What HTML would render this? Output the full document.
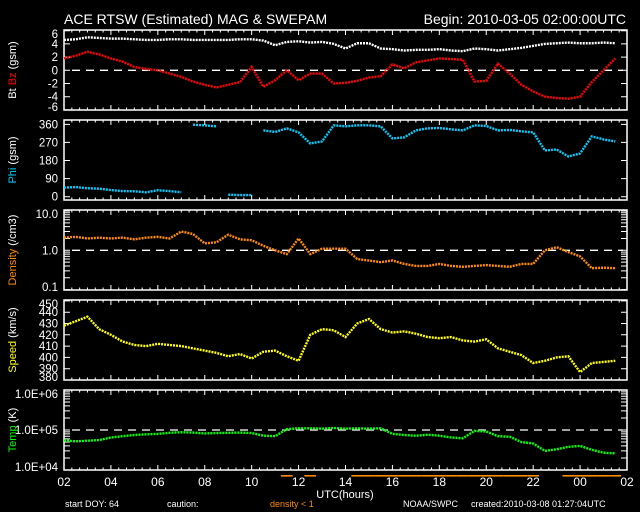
<!DOCTYPE html>
<html><head><meta charset="utf-8"><style>
body{margin:0;background:#000;width:640px;height:512px;overflow:hidden}
svg{display:block;font-family:"Liberation Sans",sans-serif}
</style></head><body>
<svg id="c" width="640" height="512" viewBox="0 0 640 512">
<rect width="640" height="512" fill="#000"/>
<text x="64" y="24" fill="#fff" font-size="14">ACE RTSW (Estimated) MAG &amp; SWEPAM</text>
<text x="626" y="24" fill="#fff" font-size="14" text-anchor="end">Begin: 2010-03-05 02:00:00UTC</text>
<text x="345" y="498" fill="#fff" font-size="11" text-anchor="middle">UTC(hours)</text>
<text x="65" y="507" fill="#fff" font-size="9">start DOY:  64</text>
<text x="167" y="507" fill="#fff" font-size="9">caution:</text>
<text x="270" y="507" fill="#ff8c00" font-size="9">density &lt; 1</text>
<text x="403" y="507" fill="#fff" font-size="9">NOAA/SWPC</text>
<text x="471" y="507" fill="#fff" font-size="9">created:2010-03-08 01:27:04UTC</text>
</svg>
<script>
const hours=[0,0.5,1,1.5,2,2.5,3,3.5,4,4.5,5,5.5,6,6.5,7,7.5,8,8.5,9,9.5,10,10.5,11,11.5,12,12.5,13,13.5,14,14.5,15,15.5,16,16.5,17,17.5,18,18.5,19,19.5,20,20.5,21,21.5,22,22.5,23,23.5];
const btVals=[4.6,4.7,5.0,4.9,4.8,4.8,4.7,4.6,4.6,4.7,4.7,4.6,4.6,4.6,4.6,4.7,4.7,4.5,3.8,4.3,4.4,4.2,4.3,4.0,3.3,4.1,4.1,3.3,3.2,3.0,3.1,3.1,3.2,3.0,2.9,3.3,3.2,3.0,3.2,3.4,3.7,4.0,4.1,4.2,4.1,4.1,4.2,4.1];
const bzVals=[1.8,2.2,2.8,2.4,1.8,1.3,0.5,0.2,0.0,-0.5,-1.0,-1.7,-2.2,-2.6,-2.2,-1.8,0.5,-2.5,-1.5,0.0,-1.5,-0.5,-0.5,-2.0,-1.9,-1.6,-1.1,-0.9,0.9,0.3,1.2,1.5,1.8,1.7,1.6,-1.7,-1.6,1.0,-0.5,-2.2,-3.2,-4.0,-4.2,-4.3,-4.0,-1.8,0.0,1.8];
const phiVals=[45,48,42,40,33,28,27,22,32,28,22,358,355,350,10,8,8,330,322,340,320,265,275,355,350,355,355,350,290,295,330,340,342,335,330,355,352,330,332,325,320,230,235,200,215,300,285,275];
const densVals=[2.1,2.2,2.0,2.1,2.0,2.1,1.9,2.1,2.2,2.0,3.0,2.6,1.5,1.6,2.5,1.9,1.8,1.3,1.0,0.8,2.0,0.8,1.1,1.1,1.1,0.6,0.55,0.5,0.55,0.45,0.4,0.4,0.45,0.4,0.38,0.4,0.42,0.4,0.38,0.45,0.45,1.0,1.2,0.9,0.7,0.35,0.36,0.35];
const speedVals=[428,432,436,425,420,414,411,410,412,411,410,408,406,404,401,403,399,405,406,401,397,420,425,424,418,430,434,425,422,423,421,418,417,418,415,414,416,408,405,402,395,397,400,401,387,395,396,397];
const tempVals=[55000,52000,54000,56000,65000,70000,75000,78000,80000,85000,88000,86000,82000,84000,85000,86000,84000,72000,70000,105000,110000,110000,108000,112000,108000,110000,108000,110000,80000,75000,72000,76000,72000,65000,62000,95000,92000,70000,68000,50000,46000,30000,33000,38000,40000,32000,27000,26000];
const xTickLabels=["02","04","06","08","10","12","14","16","18","20","22","00","02"];
const bLabels=["6","4","2","0","-2","-4","-6"];
const phiLabels=["360","270","180","90","0"];
const densLabels=["10.0","1.0","0.1"];
const speedLabels=["450","440","430","420","410","400","390","380"];
const tempLabels=["1.0E+06","1.0E+05","1.0E+04"];

const svg=document.getElementById('c');
const NS='http://www.w3.org/2000/svg';
const X0=64,X1=627;
function xs(t){return X0+(X1-X0)*t/24;}
function mk(tag,at,parent){const e=document.createElementNS(NS,tag);for(const k in at)e.setAttribute(k,at[k]);(parent||svg).appendChild(e);return e;}
const panels=[
 {top:30,bot:110,name:'bfield'},
 {top:120,bot:200,name:'phi'},
 {top:210,bot:290,name:'density'},
 {top:300,bot:380,name:'speed'},
 {top:390,bot:470,name:'temp'}];
const yB=v=>70.3-6.6*v;
const yPhi=v=>196.7-0.201*v;
const yDen=v=>250.3-39.3*Math.log10(v);
const ySp=v=>380-(v-380)*1.13;
const yT=v=>430-40*Math.log10(v/1e5);

panels.forEach(p=>{
 const g=mk('g',{});
 
 
 const r=mk('rect',{x:X0,y:p.top,width:X1-X0,height:p.bot-p.top,fill:'none',stroke:'#fff','stroke-width':1.5},g);
 
 
 let d='';
 for(let m=0;m<=24*3;m++){const x=xs(m/3);const L=(m%6===0)?5:2.5;d+=`M${x},${p.top}v${L}M${x},${p.bot}v${-L}`;}
 const tk=mk('path',{d:d,stroke:'#fff','stroke-width':1},g);
 
 
 p.g=g;
});

function yTicks(p,vals,labels,fn,minor){
 let d='';
 vals.forEach((v,i)=>{const y=fn(v);d+=`M${X0},${y}h6M${X1},${y}h-6`;
  const ty=Math.min(Math.max(y+4,p.top+8),p.bot+1);
  const t=mk('text',{x:58,y:ty,fill:'#fff','font-size':11.5,'text-anchor':'end'},p.g);
  t.textContent=labels[i];
  
  
 });
 (minor||[]).forEach(v=>{const y=fn(v);d+=`M${X0},${y}h6M${X1},${y}h-6`;});
 const pa=mk('path',{d:d,stroke:'#fff','stroke-width':1},p.g);
 
 
}
yTicks(panels[0],[6,4,2,0,-2,-4,-6],bLabels,yB);
yTicks(panels[1],[360,270,180,90,0],phiLabels,yPhi);
const dm=[];[0.1,1].forEach(b=>{for(let k=2;k<=9;k++)dm.push(b*k);});
yTicks(panels[2],[10,1,0.1],densLabels,yDen,dm);
yTicks(panels[3],[450,440,430,420,410,400,390,380],speedLabels,ySp);
const tm=[];[1e4,1e5].forEach(b=>{for(let k=2;k<=9;k++)tm.push(b*k);});
yTicks(panels[4],[1e6,1e5,1e4],tempLabels,yT,tm);

[[yB(0),'bz-zero-line'],[yDen(1),'density-one-line'],[yT(1e5),'temp-1e5-line']].forEach(a=>{
 const l=mk('line',{x1:X0+8,x2:X1-4,y1:a[0],y2:a[0],stroke:'#fff','stroke-width':1.3,'stroke-dasharray':'8,6'});
 
 
});

function series(vals,fn,color,name,wrap){
 let d='';let prev=null;
 vals.forEach((v,i)=>{
  const x=xs(hours[i]),y=fn(v);
  if(prev===null||(wrap&&Math.abs(v-prev)>180))d+=`M${x},${y}`;else d+=`L${x},${y}`;
  prev=v;
 });
 const p=mk('path',{d:d,fill:'none',stroke:color,'stroke-width':2.4,'stroke-dasharray':'2,1'});
 
 
}
series(btVals,yB,'#fff','bt-series');
series(bzVals,yB,'#ff0000','bz-series');
series(phiVals,yPhi,'#00ccff','phi-series',true);
series(densVals,yDen,'#ff8c00','density-series');
series(speedVals,ySp,'#ffff00','speed-series');
series(tempVals,yT,'#00ff00','temp-series');

densVals.forEach((v,i)=>{
 if(v<1){
  const r=mk('rect',{x:xs(hours[i])-5.9,y:475,width:11.7,height:1.6,fill:'#ff8c00'});
  
  
 }
});

xTickLabels.forEach((s,i)=>{
 const t=mk('text',{x:xs(i*2),y:486,fill:'#fff','font-size':12,'text-anchor':'middle'});
 t.textContent=s;
 
 
});

function ytitle(cy,parts,name){
 const t=mk('text',{x:0,y:0,'font-size':11,'text-anchor':'middle',transform:`translate(16,${cy}) rotate(-90)`});
 
 
 parts.forEach(p=>{const s=mk('tspan',{fill:p[1]},t);s.textContent=p[0];});
}
ytitle(70,[['Bt ','#fff'],['Bz','#ff0000'],['  (gsm)','#fff']],'bfield-y-title');
ytitle(160,[['Phi','#00ccff'],['  (gsm)','#fff']],'phi-y-title');
ytitle(250,[['Density','#ff8c00'],['  (/cm3)','#fff']],'density-y-title');
ytitle(340,[['Speed','#ffff00'],['  (km/s)','#fff']],'speed-y-title');
ytitle(430,[['Temp','#00ff00'],['  (K)','#fff']],'temp-y-title');
</script>
</body></html>
